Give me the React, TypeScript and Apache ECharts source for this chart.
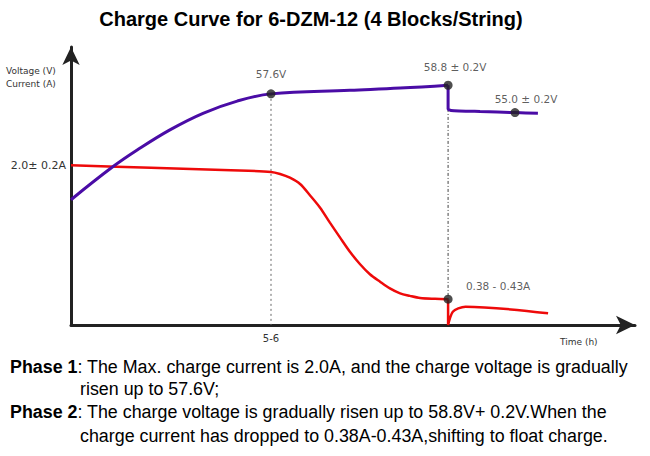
import React, { useEffect, useRef } from "react";
import * as echarts from "echarts";

// Voltage curve (V) during phase 1 and 2 (time in arbitrary hours scale)
const timeRise = [0, 1.13, 1.82, 2.72, 3.63, 4.57, 5.5, 7.67, 9.05, 10.37];
const voltageRise = [42.9, 47.4, 49.8, 52.6, 54.9, 56.6, 57.6, 58.1, 58.4, 58.8];
// Voltage drop to float
const timeFloatV = [10.37, 10.37, 10.45, 11.25, 12.21, 12.84];
const voltageFloat = [58.8, 55.5, 55.3, 55.15, 55.0, 54.9];
// Current curve (A)
const timeCurrent = [
  0, 2.2, 4.4, 5.5, 5.75, 6.02, 6.3, 6.57, 6.85, 7.12, 7.4, 7.67, 7.95, 8.22, 8.5, 8.77,
  9.05, 9.32, 9.6, 10.01, 10.37,
];
const current = [
  2.0, 1.97, 1.94, 1.92, 1.895, 1.85, 1.775, 1.64, 1.49, 1.31, 1.13, 0.96, 0.81, 0.69, 0.6,
  0.52, 0.46, 0.43, 0.405, 0.395, 0.39,
];
// Current after shifting to float
const timeFloatI = [10.37, 10.37, 10.42, 10.5, 10.65, 10.85, 13.12];
const currentFloat = [0.39, 0.08, 0.16, 0.24, 0.28, 0.3, 0.22];
// Marked points
const voltageDotTimes = [5.5, 10.37, 12.21];
const voltageDotValues = [57.6, 58.8, 55.0];
const voltageDotLabels = ["57.6V", "58.8 \u00b1 0.2V", "55.0 \u00b1 0.2V"];
const currentDotTimes = [10.37];
const currentDotValues = [0.39];
const currentDotLabels = ["0.38 - 0.43A"];
// Axis labels
const timeTickValues = [5.5];
const timeTickLabels = ["5-6"];
const currentTickValues = [2.0];
const currentTickLabels = ["2.0\u00b1 0.2A"];

const zip = (xs: number[], ys: number[]) => xs.map((x, i) => [x, ys[i]]);

const labelOffsets: number[][] = [[0, -20], [7, -18], [11, -14]];
const currentLabelOffsets: number[][] = [[50, -13]];

export default function App() {
  const ref = useRef<HTMLDivElement>(null);
  useEffect(() => {
    if (!ref.current) return;
    const chart = echarts.init(ref.current, null, { renderer: "svg" });
    const purple = "#4a0ca6";
    const red = "#ee0a0a";
    const labelFont = "DejaVu Sans";
    const bodyFont = "Liberation Sans";
    const bodySize = 17.85;
    chart.setOption({
      animation: false,
      grid: { left: 71, right: 15, top: 47, bottom: 131 },
      xAxis: {
        type: "value",
        min: 0,
        max: 15.51,
        splitLine: { show: false },
        axisTick: { show: false },
        axisLine: {
          show: true,
          onZero: false,
          symbol: ["none", "arrow"],
          symbolSize: [14, 19],
          lineStyle: { color: "#222", width: 3 },
        },
        axisLabel: {
          customValues: timeTickValues,
          formatter: (v: number) => timeTickLabels[timeTickValues.indexOf(v)] ?? "",
          color: "#333",
          fontFamily: labelFont,
          fontSize: 10,
          margin: 8,
        },
      },
      yAxis: [
        {
          type: "value",
          min: 25.5,
          max: 64.11,
          splitLine: { show: false },
          axisTick: { show: false },
          axisLabel: { show: false },
          axisLine: {
            show: true,
            onZero: false,
            symbol: ["none", "arrow"],
            symbolSize: [13, 18],
            lineStyle: { color: "#222", width: 3 },
          },
        },
        {
          type: "value",
          position: "left",
          min: 0.08,
          max: 3.421,
          splitLine: { show: false },
          axisTick: { show: false },
          axisLine: { show: false },
          axisLabel: {
            customValues: currentTickValues,
            formatter: (v: number) => currentTickLabels[currentTickValues.indexOf(v)] ?? "",
            color: "#333",
            fontFamily: labelFont,
            fontSize: 11,
            margin: 5,
          },
        },
      ],
      graphic: [
        {
          type: "text",
          style: {
            x: 311,
            y: 19,
            text: "Charge Curve for 6-DZM-12 (4 Blocks/String)",
            fontFamily: bodyFont,
            fontWeight: "bold",
            fontSize: 20,
            fill: "#000",
            align: "center",
            verticalAlign: "middle",
          },
        },
        {
          type: "text",
          style: {
            x: 6,
            y: 71,
            text: "Voltage (V)",
            fontFamily: labelFont,
            fontSize: 9,
            fill: "#333",
            verticalAlign: "middle",
          },
        },
        {
          type: "text",
          style: {
            x: 6,
            y: 84,
            text: "Current (A)",
            fontFamily: labelFont,
            fontSize: 9,
            fill: "#333",
            verticalAlign: "middle",
          },
        },
        {
          type: "text",
          style: {
            x: 560,
            y: 342,
            text: "Time (h)",
            fontFamily: labelFont,
            fontSize: 9,
            fill: "#333",
            verticalAlign: "middle",
          },
        },
        {
          type: "text",
          style: {
            x: 10,
            y: 367,
            text: "{b|Phase 1}: The Max. charge current is 2.0A, and the charge voltage is gradually",
            fontFamily: bodyFont,
            fontSize: bodySize,
            fill: "#000",
            verticalAlign: "middle",
            rich: { b: { fontWeight: "bold", fontFamily: bodyFont, fontSize: bodySize } },
          },
        },
        {
          type: "text",
          style: {
            x: 80,
            y: 389,
            text: "risen up to 57.6V;",
            fontFamily: bodyFont,
            fontSize: bodySize,
            fill: "#000",
            verticalAlign: "middle",
          },
        },
        {
          type: "text",
          style: {
            x: 10,
            y: 412,
            text: "{b|Phase 2}: The charge voltage is gradually risen up to 58.8V+ 0.2V.When the",
            fontFamily: bodyFont,
            fontSize: bodySize,
            fill: "#000",
            verticalAlign: "middle",
            rich: { b: { fontWeight: "bold", fontFamily: bodyFont, fontSize: bodySize } },
          },
        },
        {
          type: "text",
          style: {
            x: 80,
            y: 436,
            text: "charge current has dropped to 0.38A-0.43A,shifting to float charge.",
            fontFamily: bodyFont,
            fontSize: bodySize,
            fill: "#000",
            verticalAlign: "middle",
          },
        },
      ],
      series: [
        {
          type: "line",
          yAxisIndex: 0,
          data: [
            [voltageDotTimes[0], voltageDotValues[0]],
            [voltageDotTimes[0], 25.5],
          ],
          symbol: "none",
          lineStyle: { color: "#666", width: 1, type: [2, 3] },
          z: 1,
        },
        {
          type: "line",
          yAxisIndex: 1,
          data: [
            [currentDotTimes[0], 2.965],
            [currentDotTimes[0], currentDotValues[0]],
          ],
          symbol: "none",
          lineStyle: { color: "#444", width: 1, type: [3, 2, 1, 2] },
          z: 1,
        },
        {
          type: "line",
          yAxisIndex: 1,
          data: zip(timeCurrent, current),
          smooth: 0.3,
          symbol: "none",
          lineStyle: { color: red, width: 2.5 },
          z: 2,
        },
        {
          type: "line",
          yAxisIndex: 1,
          data: zip(timeFloatI, currentFloat),
          smooth: 0.3,
          symbol: "none",
          lineStyle: { color: red, width: 2.5 },
          z: 2,
        },
        {
          type: "line",
          yAxisIndex: 0,
          data: zip(timeRise, voltageRise),
          smooth: 0.4,
          symbol: "none",
          lineStyle: { color: purple, width: 3 },
          z: 3,
        },
        {
          type: "line",
          yAxisIndex: 0,
          data: zip(timeFloatV, voltageFloat),
          smooth: 0.2,
          symbol: "none",
          lineStyle: { color: purple, width: 3 },
          z: 3,
        },
        {
          type: "scatter",
          yAxisIndex: 0,
          symbolSize: 9,
          itemStyle: { color: "#222" },
          z: 5,
          data: voltageDotTimes.map((t, i) => ({
            value: [t, voltageDotValues[i]],
            label: {
              show: true,
              position: "inside",
              offset: labelOffsets[i],
              formatter: voltageDotLabels[i],
              color: "#333",
              fontFamily: labelFont,
              fontSize: 10.5,
            },
          })),
        },
        {
          type: "scatter",
          yAxisIndex: 1,
          symbolSize: 9,
          itemStyle: { color: "#222" },
          z: 5,
          data: currentDotTimes.map((t, i) => ({
            value: [t, currentDotValues[i]],
            label: {
              show: true,
              position: "inside",
              offset: currentLabelOffsets[i],
              formatter: currentDotLabels[i],
              color: "#333",
              fontFamily: labelFont,
              fontSize: 10.5,
            },
          })),
        },
      ],
    });
    return () => chart.dispose();
  }, []);
  return (
    <div
      ref={ref}
      style={{ position: "fixed", left: 0, top: 0, width: 650, height: 456, background: "#fff" }}
    />
  );
}
